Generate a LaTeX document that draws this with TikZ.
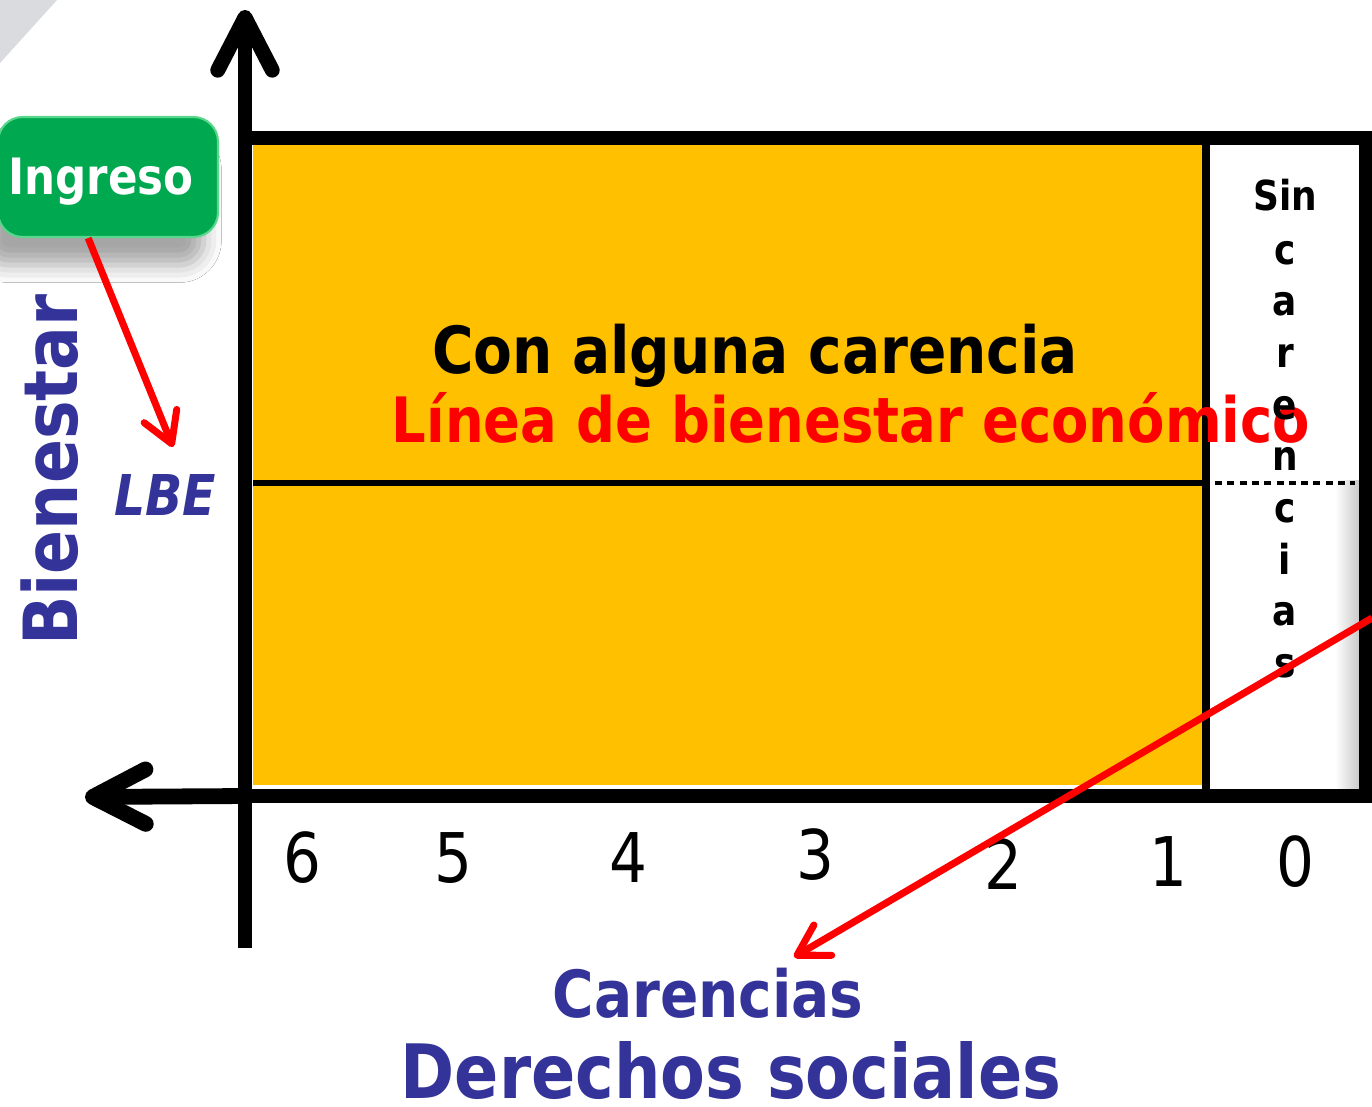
\documentclass[tikz,border=0pt]{standalone}
\usepackage{fontspec}
\setmainfont[FakeStretch=0.87]{DejaVu Sans}
\usetikzlibrary{arrows.meta,shadows.blur}

\definecolor{barYellow}{RGB}{255,192,0}
\definecolor{labelBlue}{RGB}{51,51,153}
\definecolor{boxGreen}{RGB}{0,168,80}
\definecolor{boxEdge}{RGB}{90,215,140}
\definecolor{cornerGray}{RGB}{217,219,222}

\tikzset{
  axisarrow/.style={line width=8.5pt, -{Straight Barb[length=30pt,width=31pt,round]}},
  pointer/.style={red, line width=4pt, -{Straight Barb[length=17pt,width=20pt,round]}},
  digit/.style={font=\fontsize{39}{39}\selectfont},
  bluetitle/.style={anchor=base, text=labelBlue, font=\bfseries\fontsize{#1}{#1}\selectfont},
  ingresobox/.style={fill=boxGreen, draw=boxEdge, line width=1.2pt, rounded corners=14pt,
    minimum width=4.4cm, minimum height=2.4cm, text=white, text height=20pt, text depth=0pt,
    font=\bfseries\fontsize{28.5}{28.5}\selectfont,
    blur shadow={shadow xshift=-8pt, shadow yshift=-16pt, shadow blur radius=10pt, shadow opacity=35}},
}

\begin{document}
\begin{tikzpicture}[x=0.02cm,y=-0.02cm]
  \useasboundingbox (0,0) rectangle (1372,1106);
  \fill[white] (0,0) rectangle (1372,1106);
  \fill[cornerGray] (0,0) -- (57,0) -- (0,63) -- cycle;

  % Yellow area and column shadow
  \fill[barYellow] (253,145) rectangle (1203,785);
  \shade[left color=white, right color=black!22] (1335,480) rectangle (1360,788);

  % Frame and dividing lines
  \draw[line width=8.5pt] (245,138) rectangle (1366,796);
  \draw[line width=4.5pt] (1206,138) -- (1206,796);
  \draw[line width=3.2pt] (253,483) -- (1203,483);
  \draw[line width=2.3pt, dash pattern=on 4pt off 3pt] (1215,483) -- (1355,483);

  % Axes
  \coordinate (origin) at (245,796);
  \coordinate (vbottom) at (245,948);
  \coordinate (vtip) at (245,10);
  \coordinate (htip) at (85,797);
  \draw[axisarrow] (vbottom) -- (vtip);
  \draw[axisarrow, line width=9pt] (origin) -- (htip);

  % Texts in the box
  \node[anchor=base, font=\bfseries\fontsize{37}{37}\selectfont] (alguna) at (755,373) {Con alguna carencia};
  \node[anchor=base, text=red, font=\bfseries\fontsize{35.6}{35.6}\selectfont] (lbeline) at (851,442) {Línea de bienestar económico};
  \node[anchor=north, align=center, inner sep=0pt, font=\bfseries\fontsize{23.5}{29.4}\selectfont] (sincar) at (1285,179)
    {Sin\\[1pt]c\\a\\r\\e\\n\\c\\i\\a\\s};

  % Number of carencias
  \foreach \n/\x/\y in {6/302/858, 5/453/858, 4/628/858, 3/815/855, 2/1003/864, 1/1168/862, 0/1295/862}
    \node[digit] (d\n) at (\x,\y) {\n};

  % Axis labels
  \node[ingresobox] (ingreso) at (108,177) {\hspace*{-8pt}Ingreso};
  \node[rotate=90, text=labelBlue, font=\bfseries\fontsize{42.5}{42.5}\selectfont] (bienestar) at (50,470) {Bienestar};
  \node[anchor=base, text=labelBlue, font=\bfseries\itshape\fontsize{32}{32}\selectfont] (lbe) at (165,515) {LBE};
  \node[bluetitle=37] (carencias) at (708,1017) {Carencias};
  \node[bluetitle=42.7] (derechos) at (731,1098) {Derechos sociales};

  % Red pointers
  \coordinate (lbetip) at (173,447);
  \draw[pointer] (ingreso.252) -- (lbetip);
  \coordinate (carstart) at (1372,618);
  \coordinate (cartip) at (794,957);
  \draw[pointer] (carstart) -- (cartip);
\end{tikzpicture}
\end{document}
